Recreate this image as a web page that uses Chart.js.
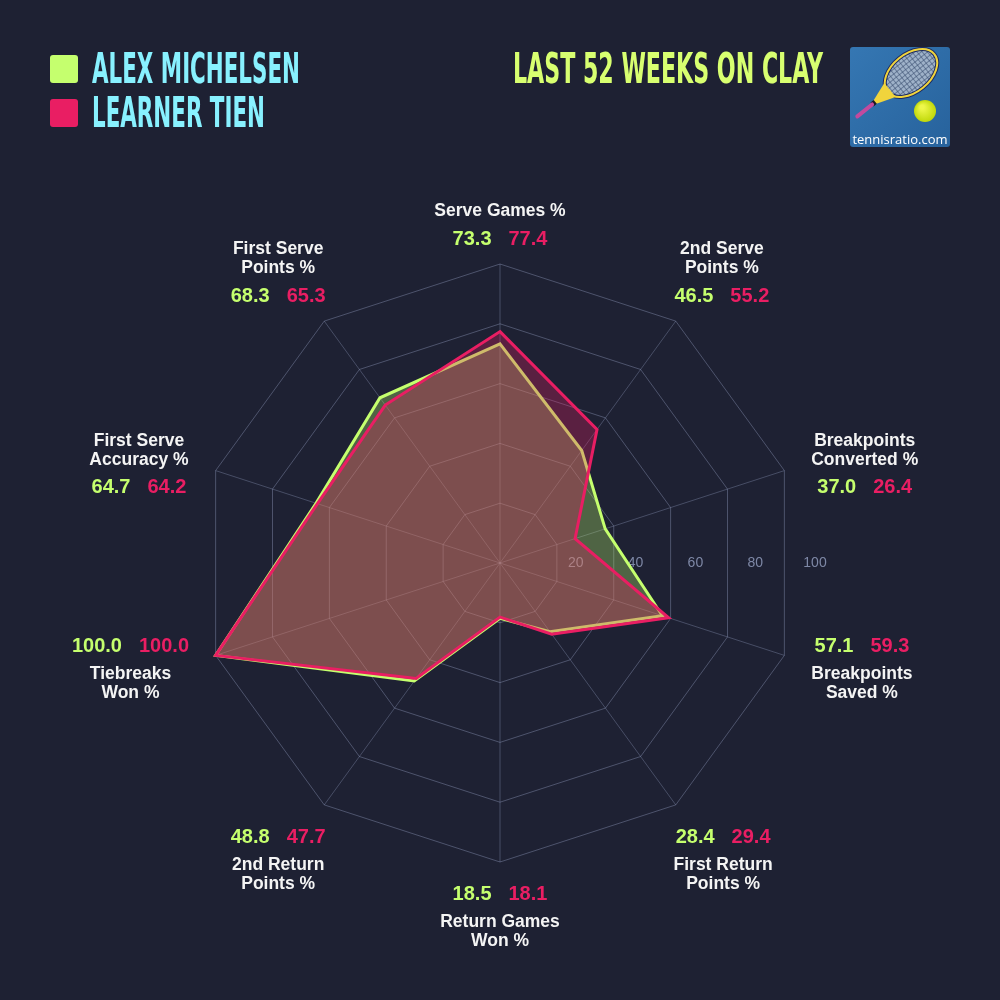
<!DOCTYPE html>
<html>
<head>
<meta charset="utf-8">
<script src="https://cdn.jsdelivr.net/npm/chart.js@4.4.1/dist/chart.umd.min.js"></script>
<style>
  html, body { margin: 0; padding: 0; background: #1e2133; }
  canvas { display: block; }
</style>
</head>
<body>
<canvas id="radar" width="1000" height="1000"></canvas>
<script>
// axes, clockwise from the top
const categories = [
  ['Serve Games %'],
  ['2nd Serve', 'Points %'],
  ['Breakpoints', 'Converted %'],
  ['Breakpoints', 'Saved %'],
  ['First Return', 'Points %'],
  ['Return Games', 'Won %'],
  ['2nd Return', 'Points %'],
  ['Tiebreaks', 'Won %'],
  ['First Serve', 'Accuracy %'],
  ['First Serve', 'Points %']
];
const players = ['ALEX MICHELSEN', 'LEARNER TIEN'];
const michelsen = [73.3, 46.5, 37.0, 57.1, 28.4, 18.5, 48.8, 100.0, 64.7, 68.3];
const tien = [77.4, 55.2, 26.4, 59.3, 29.4, 18.1, 47.7, 100.0, 64.2, 65.3];
const tickValues = [20, 40, 60, 80, 100];
const title = 'LAST 52 WEEKS ON CLAY';

const GREEN = '#c5ff6e';
const PINK = '#e91e63';
const FONT = '"Liberation Sans", Arial, sans-serif';
const HEAD_FONT = '"Liberation Sans Narrow", "DejaVu Sans Condensed", "Liberation Sans", sans-serif';

// squeeze a string to a given width
function fitText(ctx, text, x, y, width) {
  const w = ctx.measureText(text).width;
  ctx.save();
  ctx.translate(x, y);
  ctx.scale(width / w, 1);
  ctx.fillText(text, 0, 0);
  ctx.restore();
}

function roundRect(ctx, x, y, w, h, r) {
  ctx.beginPath();
  ctx.moveTo(x + r, y);
  ctx.arcTo(x + w, y, x + w, y + h, r);
  ctx.arcTo(x + w, y + h, x, y + h, r);
  ctx.arcTo(x, y + h, x, y, r);
  ctx.arcTo(x, y, x + w, y, r);
  ctx.closePath();
}

function drawHeader(ctx) {
  ctx.save();
  ctx.textAlign = 'left';
  ctx.textBaseline = 'alphabetic';
  ctx.font = 'bold 42px ' + HEAD_FONT;

  // legend
  ctx.fillStyle = GREEN;
  roundRect(ctx, 50, 55, 28, 28, 3); ctx.fill();
  ctx.fillStyle = PINK;
  roundRect(ctx, 50, 99, 28, 28, 3); ctx.fill();
  ctx.fillStyle = '#88f1ff';
  fitText(ctx, players[0], 92, 83, 208);
  fitText(ctx, players[1], 92, 127, 173);

  ctx.fillStyle = '#d8ff70';
  fitText(ctx, title, 513, 83, 310);
  ctx.restore();
}

function drawLogo(ctx) {
  const x = 850, y = 47, s = 100;
  ctx.save();
  roundRect(ctx, x, y, s, s, 3);
  const bg = ctx.createLinearGradient(x, y, x + s, y + s);
  bg.addColorStop(0, '#3577b3');
  bg.addColorStop(1, '#27629c');
  ctx.fillStyle = bg;
  ctx.fill();
  ctx.clip();

  // racket
  ctx.save();
  ctx.translate(911, 73);
  ctx.rotate(-0.68);
  ctx.beginPath();
  ctx.ellipse(0, 0, 30, 19, 0, 0, Math.PI * 2);
  ctx.fillStyle = '#9fb2c9';
  ctx.fill();
  ctx.save();
  ctx.clip();
  ctx.strokeStyle = 'rgba(55,75,110,0.55)';
  ctx.lineWidth = 1;
  for (let k = -30; k <= 30; k += 4) {
    ctx.beginPath(); ctx.moveTo(k, -20); ctx.lineTo(k, 20); ctx.stroke();
    ctx.beginPath(); ctx.moveTo(-32, k); ctx.lineTo(32, k); ctx.stroke();
  }
  ctx.restore();
  ctx.beginPath();
  ctx.ellipse(0, 0, 30, 19, 0, 0, Math.PI * 2);
  ctx.strokeStyle = '#1c2b63';
  ctx.lineWidth = 4;
  ctx.stroke();
  ctx.strokeStyle = '#f0d43c';
  ctx.lineWidth = 2;
  ctx.stroke();
  // throat
  ctx.beginPath();
  ctx.moveTo(-27, -9);
  ctx.lineTo(-27, 9);
  ctx.lineTo(-47, 2);
  ctx.lineTo(-47, -2);
  ctx.closePath();
  ctx.fillStyle = '#f0d43c';
  ctx.fill();
  ctx.fillStyle = '#1a1a2a';
  ctx.fillRect(-50, -2.5, 4, 5);
  // handle
  ctx.beginPath();
  ctx.moveTo(-50, 0);
  ctx.lineTo(-69, 0);
  ctx.strokeStyle = '#c24a9e';
  ctx.lineWidth = 4;
  ctx.lineCap = 'round';
  ctx.stroke();
  ctx.restore();

  // ball
  const ball = ctx.createRadialGradient(922, 107, 2, 925, 111, 11);
  ball.addColorStop(0, '#eef74a');
  ball.addColorStop(1, '#c0d80a');
  ctx.beginPath();
  ctx.arc(925, 111, 11, 0, Math.PI * 2);
  ctx.fillStyle = ball;
  ctx.fill();

  ctx.fillStyle = '#ffffff';
  ctx.font = '13px "Open Sans", Lato, sans-serif';
  ctx.textAlign = 'center';
  ctx.textBaseline = 'alphabetic';
  ctx.fillText('tennisratio.com', x + s / 2, 144);
  ctx.restore();
}

const radarExtras = {
  id: 'radarExtras',
  beforeDatasetsDraw(chart) {
    // tick labels along the horizontal, under the fills
    const ctx = chart.ctx;
    const sc = chart.scales.r;
    ctx.save();
    ctx.font = '14px ' + FONT;
    ctx.fillStyle = '#7e88a6';
    ctx.textAlign = 'center';
    ctx.textBaseline = 'middle';
    tickValues.forEach(v => {
      ctx.fillText(String(v), sc.xCenter + sc.getDistanceFromCenterForValue(v) + 16, sc.yCenter);
    });
    ctx.restore();
  },
  afterDraw(chart) {
    const ctx = chart.ctx;
    const sc = chart.scales.r;
    const R = sc.drawingArea;
    const titleFont = 'bold 17.5px ' + FONT;
    const valueFont = 'bold 20px ' + FONT;

    ctx.save();
    ctx.textBaseline = 'middle';
    categories.forEach((lines, i) => {
      const a = sc.getIndexAngle(i) - Math.PI / 2;
      const cos = Math.cos(a), sin = Math.sin(a);
      const g = michelsen[i].toFixed(1);
      const t = tien[i].toFixed(1);

      ctx.font = valueFont;
      const wg = ctx.measureText(g).width;
      const wt = ctx.measureText(t).width;
      const rowW = wg + 17 + wt;
      ctx.font = titleFont;
      let maxW = rowW;
      lines.forEach(l => { maxW = Math.max(maxW, ctx.measureText(l).width); });

      const hw = maxW / 2;
      const span = 28 + 19 * (lines.length - 1);
      const hh = (span + 18) / 2;
      const cx = sc.xCenter + (R + 31 + hw) * cos;
      const f = Math.min(1, Math.max(0, (Math.abs(sin) - 0.2) / 0.55));
      const cy = sc.yCenter + R * sin + Math.sign(sin) * (hh + 19.5) * f + 4;

      const top = cy - span / 2;
      let valueY, titleY;
      if (sin < 0) {
        titleY = top;
        valueY = top + 19 * (lines.length - 1) + 28;
      } else {
        valueY = top;
        titleY = top + 28;
      }

      ctx.font = titleFont;
      ctx.textAlign = 'center';
      ctx.fillStyle = '#f4f4f4';
      lines.forEach((l, k) => ctx.fillText(l, cx, titleY + 19 * k));

      ctx.font = valueFont;
      ctx.textAlign = 'left';
      const x0 = cx - rowW / 2;
      ctx.fillStyle = GREEN;
      ctx.fillText(g, x0, valueY);
      ctx.fillStyle = PINK;
      ctx.fillText(t, x0 + wg + 17, valueY);
    });
    ctx.restore();

    drawHeader(ctx);
    drawLogo(ctx);
  }
};

const ctx = document.getElementById('radar').getContext('2d');
new Chart(ctx, {
  type: 'radar',
  data: {
    labels: categories,
    datasets: [
      {
        label: players[0],
        data: michelsen,
        borderColor: GREEN,
        backgroundColor: 'rgba(197,255,110,0.3)',
        borderWidth: 3,
        pointRadius: 0,
        fill: 'start',
        order: 1
      },
      {
        label: players[1],
        data: tien,
        borderColor: PINK,
        backgroundColor: 'rgba(233,30,99,0.3)',
        borderWidth: 3,
        pointRadius: 0,
        fill: 'start',
        order: 0
      }
    ]
  },
  options: {
    responsive: false,
    animation: false,
    layout: { padding: { left: 201, right: 201, top: 264, bottom: 138 } },
    plugins: {
      legend: { display: false },
      tooltip: { enabled: false }
    },
    scales: {
      r: {
        min: 0,
        max: 100,
        ticks: { display: false, stepSize: 20 },
        pointLabels: { display: false },
        grid: { color: 'rgba(150,160,195,0.4)', lineWidth: 1 },
        angleLines: { color: 'rgba(150,160,195,0.35)', lineWidth: 1 }
      }
    }
  },
  plugins: [radarExtras]
});
</script>
</body>
</html>
